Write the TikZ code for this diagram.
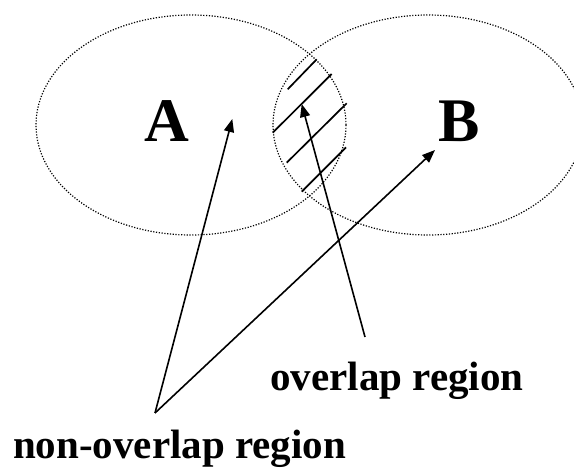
\documentclass[tikz,border=0pt]{standalone}
\usepackage{fontspec}
\setmainfont{Liberation Serif}
\usetikzlibrary{arrows.meta}
\begin{document}
\begin{tikzpicture}[x=1pt,y=-1pt,
  setoval/.style={draw=black, line width=1.2pt, dash pattern=on 1.2pt off 1.6pt},
  hatchline/.style={draw=black, line width=1.7pt},
  pointer/.style={draw=black, line width=1.6pt, -{Triangle[length=13pt,width=10pt]}},
  biglabel/.style={inner sep=0pt, anchor=base west, font=\fontsize{62}{62}\selectfont\bfseries},
  txtlabel/.style={inner sep=0pt, anchor=base west, font=\fontsize{41}{41}\selectfont\bfseries}]
\useasboundingbox (0,0) rectangle (574,468);
\clip (0,0) rectangle (574,468);
% sets
\draw[setoval] (191,125) ellipse [x radius=155, y radius=110];
\draw[setoval] (428,125) ellipse [x radius=155, y radius=110];
% hatching of the overlap
\draw[hatchline] (287.7,89.3) -- (316.7,59.3);
\draw[hatchline] (272.7,132.7) -- (331.7,74);
\draw[hatchline] (286.7,162.7) -- (346.7,103.3);
\draw[hatchline] (301.7,191.7) -- (346,147.3);
% labels
\node[biglabel] (A) at (144,141.7) {A};
\node[biglabel] (B) at (438,141.7) {B};
\node[txtlabel] (ov) at (270,390) {overlap region};
\node[txtlabel] (nonov) at (13,458.5) {non-overlap region};
% arrow end points
\coordinate (nsrc) at (155,413);
\coordinate (osrc) at (365,337);
\coordinate (tipA) at (232.3,119);
\coordinate (tipB) at (435,150);
\coordinate (tipO) at (301.7,104);
\draw[pointer] (nsrc) -- (tipA);
\draw[pointer] (nsrc) -- (tipB);
\draw[pointer] (osrc) -- (tipO);
\end{tikzpicture}
\end{document}
